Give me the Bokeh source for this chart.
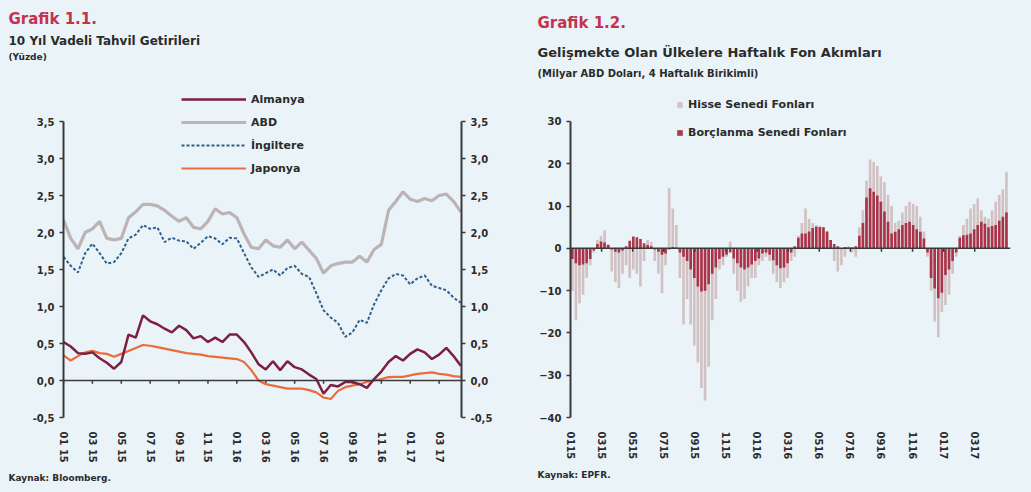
import numpy as np
from bokeh.plotting import figure
from bokeh.models import (FixedTicker, LinearAxis, Range1d, Span, Legend, LegendItem, Title)
from bokeh.layouts import row, column
from bokeh.core.properties import value
from bokeh.embed import file_html
from bokeh.resources import INLINE

# ---------------- Data: Grafik 1.1 (semi-monthly readings, Jan 2015 - Apr 2017) ----------------
almanya = [0.52, 0.46, 0.37, 0.36, 0.38, 0.30, 0.24, 0.16, 0.25, 0.62, 0.58, 0.88, 0.80, 0.76,
           0.70, 0.65, 0.74, 0.68, 0.57, 0.60, 0.52, 0.58, 0.52, 0.62, 0.62, 0.52, 0.38, 0.22,
           0.15, 0.26, 0.14, 0.26, 0.18, 0.15, 0.08, 0.02, -0.18, -0.06, -0.08, -0.02, -0.02,
           -0.05, -0.10, 0.02, 0.12, 0.25, 0.33, 0.27, 0.36, 0.42, 0.38, 0.29, 0.35, 0.44, 0.33, 0.20]
abd = [2.17, 1.92, 1.78, 2.00, 2.05, 2.15, 1.92, 1.90, 1.92, 2.20, 2.28, 2.38, 2.38, 2.36,
       2.30, 2.22, 2.15, 2.20, 2.07, 2.05, 2.15, 2.32, 2.25, 2.27, 2.20, 1.98, 1.80, 1.78,
       1.90, 1.82, 1.80, 1.90, 1.78, 1.87, 1.76, 1.65, 1.45, 1.55, 1.58, 1.60, 1.60, 1.68,
       1.60, 1.77, 1.84, 2.30, 2.42, 2.55, 2.45, 2.42, 2.46, 2.43, 2.50, 2.52, 2.42, 2.28]
ingiltere = [1.67, 1.55, 1.46, 1.72, 1.85, 1.72, 1.58, 1.60, 1.72, 1.92, 1.97, 2.10, 2.05, 2.07,
             1.87, 1.93, 1.89, 1.88, 1.78, 1.86, 1.95, 1.92, 1.84, 1.93, 1.92, 1.72, 1.53, 1.40,
             1.45, 1.50, 1.42, 1.52, 1.55, 1.44, 1.40, 1.18, 0.95, 0.85, 0.78, 0.59, 0.65, 0.82,
             0.78, 1.03, 1.22, 1.38, 1.44, 1.42, 1.30, 1.38, 1.42, 1.28, 1.25, 1.22, 1.12, 1.05]
japonya = [0.34, 0.27, 0.33, 0.38, 0.40, 0.37, 0.36, 0.32, 0.36, 0.40, 0.44, 0.48, 0.47, 0.45,
           0.43, 0.41, 0.39, 0.37, 0.36, 0.35, 0.33, 0.32, 0.31, 0.30, 0.29, 0.25, 0.14, 0.00,
           -0.05, -0.07, -0.09, -0.11, -0.11, -0.11, -0.13, -0.16, -0.23, -0.25, -0.14, -0.09,
           -0.07, -0.05, -0.02, 0.00, 0.02, 0.045, 0.05, 0.05, 0.07, 0.09, 0.10, 0.11, 0.09,
           0.08, 0.06, 0.05]

# ---------------- Data: Grafik 1.2 (weekly, 4-week cumulative, billion USD) ----------------
hisse = [-10, -17, -13, -11, -7, -4, -1, 2, 3, 4.3,
         1, -5.5, -8, -9.4, -6, -4, -7, -5, -6, -9,
         -3, 2, 1.5, -3, -6, -10.6, -4, 14.2, 9.4, 5.5,
         -7, -18, -12, -18, -23, -27, -33, -36, -28, -17,
         -12, -5, -4, -2, 1.6, -6, -10, -12.6, -12, -9,
         -7, -7, -4, -3, -2, -3, -6, -8, -9.4, -8,
         -7, -3, -2, 3, 6, 9.4, 7, 6, 5.5, 5,
         5, 4, 2, -3, -5.5, -4, -2, 0.5, -1, -2,
         5, 9, 16, 21, 20.5, 19.5, 17, 15.7, 12.6, 10,
         6, 6.5, 8.5, 10, 11, 10.5, 10, 7.5, 4, -2,
         -10, -17.3, -21, -15, -13.4, -11, -6, -2, 3, 5.5,
         7, 9.4, 10.5, 11.8, 9, 7.5, 7, 9, 11, 12.6,
         14, 18]
borclanma = [-2.5, -3.5, -4, -3.8, -3.5, -2.5, -0.5, 1, 1.6, 1.4,
             0.8, -0.3, -0.8, -1, -0.5, 0.5, 1.8, 2.8, 2.6, 2.2,
             1.2, 0.8, 0.5, -0.3, -0.8, -1.5, -1.2, -0.3, 0.3, 0.2,
             -1, -2, -3, -5, -7, -9, -10.2, -10, -8.5, -6,
             -4.5, -2.5, -2, -1.5, -1, -2.4, -3.5, -4.5, -5, -4.5,
             -3.8, -3, -2.4, -1.2, -1, -1.5, -2.8, -4, -4.7, -4.5,
             -3.5, -1, 0.5, 2.5, 3.5, 3.5, 4, 4.8, 5.1, 5.1,
             5, 4, 2, 1, 0.5, 0, 0.3, 0.2, 0.2, 0.5,
             3, 6, 12, 14.2, 13.4, 12.5, 11, 8.7, 6.3, 3.5,
             3.9, 4.5, 5.5, 6, 6.3, 5.5, 4.5, 3.9, 2.3, -1,
             -7, -9.5, -11.8, -10.5, -6.3, -5, -3, -1, 2.5, 3.1,
             3.2, 3.5, 4.5, 5.5, 6.3, 5.8, 5, 5.3, 5.5, 6.5,
             7.5, 8.5]

x_labels_left = ["01 15", "03 15", "05 15", "07 15", "09 15", "11 15", "01 16",
                 "03 16", "05 16", "07 16", "09 16", "11 16", "01 17", "03 17"]
x_labels_right = ["0115", "0315", "0515", "0715", "0915", "1115", "0116",
                  "0316", "0516", "0716", "0916", "1116", "0117", "0317"]
y_ticks_left = [-0.5, 0.0, 0.5, 1.0, 1.5, 2.0, 2.5, 3.0, 3.5]
y_labels_left = ["-0,5", "0,0", "0,5", "1,0", "1,5", "2,0", "2,5", "3,0", "3,5"]
y_ticks_right = [-40, -30, -20, -10, 0, 10, 20, 30]

title_left = ["Grafik 1.1.", "10 Yıl Vadeli Tahvil Getirileri", "(Yüzde)"]
title_right = ["Grafik 1.2.", "Gelişmekte Olan Ülkelere Haftalık Fon Akımları",
               "(Milyar ABD Doları, 4 Haftalık Birikimli)"]

BG = "#eaf4f8"
FONT = "DejaVu Sans"
TXT = "#2b2b2b"
RED_T = "#c3324f"
x_ticks = [2 * i for i in range(len(x_labels_left))]
months_left = [0.5 * i for i in range(len(almanya))]
weeks_x = [(i + 0.5) * 12 / 52 for i in range(len(hisse))]

HEAD_H = 80
CH_H = 492 - HEAD_H
TOP = 5          # frame top offset inside chart figures (frame top at y=85)
BOT = 75


def style_axis(ax):
    ax.axis_line_color = "#3a3a3a"
    ax.axis_line_width = 2
    ax.major_tick_line_color = "#3a3a3a"
    ax.major_tick_line_width = 1.5
    ax.major_tick_out = 4
    ax.major_tick_in = 0
    ax.minor_tick_line_color = None
    ax.major_label_text_font = FONT
    ax.major_label_text_font_style = "bold"
    ax.major_label_text_font_size = "10px"
    ax.major_label_text_color = TXT


def style_xaxis(ax, labels):
    ax.ticker = FixedTicker(ticks=x_ticks)
    ax.major_label_overrides = {t: l for t, l in zip(x_ticks, labels)}
    ax.major_label_orientation = "vertical"
    ax.axis_line_color = None
    ax.major_tick_line_color = None
    ax.minor_tick_line_color = None
    ax.major_label_standoff = 8
    ax.major_label_text_font = FONT
    ax.major_label_text_font_style = "bold"
    ax.major_label_text_font_size = "10px"
    ax.major_label_text_color = TXT


# ---------------- Header strip with titles ----------------
head = figure(width=1031, height=HEAD_H, x_range=Range1d(0, 1031), y_range=Range1d(HEAD_H, 0),
              x_axis_type=None, y_axis_type=None, output_backend="svg", toolbar_location=None,
              min_border=0, background_fill_color=BG, border_fill_color=BG,
              outline_line_color=None)
head.grid.visible = False
head.text(x=[8, 8, 8], y=[18, 40, 56], text=title_left, text_font=value(FONT),
          text_font_style="bold", text_font_size=["15px", "12px", "9px"],
          text_color=[RED_T, TXT, TXT], text_baseline="middle", text_align="left")
head.text(x=[537, 537, 537], y=[22, 52, 73], text=title_right, text_font=value(FONT),
          text_font_style="bold", text_font_size=["15px", "13px", "10px"],
          text_color=[RED_T, TXT, TXT], text_baseline="middle", text_align="left")

# ---------------- Left figure ----------------
y_top_left = 3.5 + (121 - (HEAD_H + TOP)) / 74.0
p1 = figure(width=520, height=CH_H, x_range=Range1d(0, 27.55), y_range=Range1d(-0.5, y_top_left),
            output_backend="svg", toolbar_location=None,
            min_border_left=63, min_border_right=59, min_border_top=TOP, min_border_bottom=BOT,
            background_fill_color=BG, border_fill_color=BG, outline_line_color=None)
p1.grid.visible = False
p1.yaxis.ticker = FixedTicker(ticks=y_ticks_left)
p1.yaxis.major_label_overrides = {t: l for t, l in zip(y_ticks_left, y_labels_left)}
p1.yaxis.bounds = (-0.5, 3.5)
style_axis(p1.yaxis[0])
yr = LinearAxis(ticker=FixedTicker(ticks=y_ticks_left), bounds=(-0.5, 3.5),
                major_label_overrides={t: l for t, l in zip(y_ticks_left, y_labels_left)})
style_axis(yr)
p1.add_layout(yr, "right")
style_xaxis(p1.xaxis[0], x_labels_left)

p1.add_layout(Span(location=0, dimension="width", line_color="#3a3a3a", line_width=1.5))
p1.segment(x0=x_ticks, y0=[0] * len(x_ticks), x1=x_ticks, y1=[-0.045] * len(x_ticks),
           line_color="#3a3a3a", line_width=1.5)

r_abd = p1.line(months_left, abd, line_color="#bcb3b4", line_width=3.2)
r_ing = p1.line(months_left, ingiltere, line_color="#2f5f8c", line_width=2, line_dash="3 2")
r_jap = p1.line(months_left, japonya, line_color="#ec6a3c", line_width=2.2)
r_alm = p1.line(months_left, almanya, line_color="#7c1f40", line_width=2.5)

leg1 = Legend(items=[LegendItem(label="Almanya", renderers=[r_alm]),
                     LegendItem(label="ABD", renderers=[r_abd]),
                     LegendItem(label="İngiltere", renderers=[r_ing]),
                     LegendItem(label="Japonya", renderers=[r_jap])],
              location=(118, 239), glyph_width=65, glyph_height=20, spacing=3,
              background_fill_alpha=0, border_line_color=None,
              label_text_font=FONT, label_text_font_style="bold", label_text_font_size="11px",
              label_text_color=TXT)
p1.add_layout(leg1, "center")
p1.add_layout(Title(text="Kaynak: Bloomberg.", align="left", offset=-55, text_font=FONT,
                    text_font_size="9px", text_color=TXT, text_font_style="bold"), "below")

# ---------------- Right figure ----------------
y_top_right = 30 + (121 - (HEAD_H + TOP)) / 4.23
p2 = figure(width=511, height=CH_H, x_range=Range1d(0, 28.3), y_range=Range1d(-40, y_top_right),
            output_backend="svg", toolbar_location=None,
            min_border_left=50, min_border_right=21, min_border_top=TOP, min_border_bottom=BOT,
            background_fill_color=BG, border_fill_color=BG, outline_line_color=None)
p2.grid.visible = False
p2.yaxis.ticker = FixedTicker(ticks=y_ticks_right)
p2.yaxis.bounds = (-40, 30)
style_axis(p2.yaxis[0])
style_xaxis(p2.xaxis[0], x_labels_right)

r_h = p2.vbar(x=weeks_x, top=hisse, bottom=0, width=0.17, fill_color="#d2c1c3",
              line_color=None)
r_b = p2.vbar(x=weeks_x, top=borclanma, bottom=0, width=0.17, fill_color="#a5283f",
              line_color=None, fill_alpha=0.92)
p2.add_layout(Span(location=0, dimension="width", line_color="#3a3a3a", line_width=1.5))
p2.segment(x0=x_ticks, y0=[0] * len(x_ticks), x1=x_ticks, y1=[-0.8] * len(x_ticks),
           line_color="#3a3a3a", line_width=1.5)

leg2 = Legend(items=[LegendItem(label="Hisse Senedi Fonları", renderers=[r_h]),
                     LegendItem(label="Borçlanma Senedi Fonları", renderers=[r_b])],
              location=(106, 278), glyph_width=7, glyph_height=7, spacing=15,
              background_fill_alpha=0, border_line_color=None,
              label_text_font=FONT, label_text_font_style="bold", label_text_font_size="11px",
              label_text_color=TXT)
p2.add_layout(leg2, "center")
p2.add_layout(Title(text="Kaynak: EPFR.", align="left", offset=-33, text_font=FONT,
                    text_font_size="9px", text_color=TXT, text_font_style="bold"), "below")

charts = row(p1, p2, styles={"background-color": BG})
layout = column(head, charts, styles={"background-color": BG})
open("out.html", "w").write(file_html(layout, INLINE))
